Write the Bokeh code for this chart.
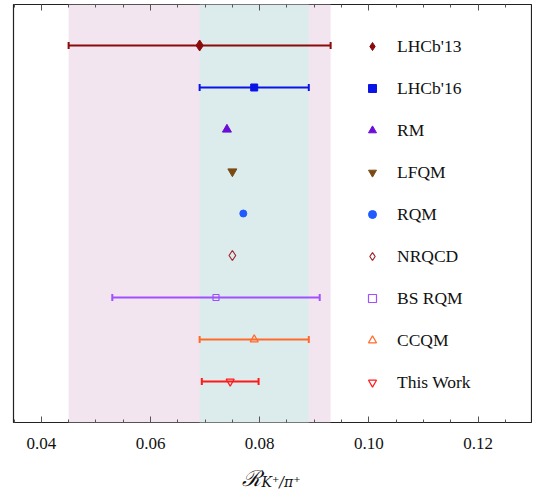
import math
from bokeh.plotting import figure
from bokeh.models import (Legend, LegendItem, Label, LinearAxis, FixedTicker,
                          BoxAnnotation, Range1d, NumeralTickFormatter,
                          CustomLabelingPolicy)
from bokeh.embed import file_html
from bokeh.resources import INLINE

# ---------------- data ----------------
names = ["LHCb'13", "LHCb'16", "RM", "LFQM", "RQM", "NRQCD", "BS RQM", "CCQM", "This Work"]
values = [0.069, 0.079, 0.074, 0.075, 0.077, 0.075, 0.072, 0.079, 0.0746]
err_minus = [0.024, 0.010, None, None, None, None, 0.019, 0.010, 0.0052]
err_plus = [0.024, 0.010, None, None, None, None, 0.019, 0.010, 0.0052]
rows = [9, 8, 7, 6, 5, 4, 3, 2, 1]
major_ticks = [0.04, 0.06, 0.08, 0.10, 0.12]
minor_ticks = [0.035, 0.045, 0.05, 0.055, 0.065, 0.07, 0.075, 0.085, 0.09, 0.095,
               0.105, 0.11, 0.115, 0.125]
x_label_main = "ℛ"
x_label_sub = "K⁺/π⁺"

# ---------------- styles ----------------
colors = ["#8B0A0A", "#0A14E6", "#6A0DD6", "#7A4A14", "#1F5BFF",
          "#A0282E", "#A050FF", "#FF6A2A", "#FF1A1A"]
markers = ["diamond", "square", "triangle", "inverted_triangle", "circle",
           "diamond", "square", "triangle", "inverted_triangle"]
sizes = [11, 7, 9, 9, 7, 10, 6, 8, 8]
filled = [True, True, True, True, True, False, False, False, False]

SERIF = "'Liberation Serif', serif"

p = figure(frame_width=518, frame_height=418,
           x_range=Range1d(0.0349, 0.1298), y_range=Range1d(0.024, 9.976),
           output_backend="svg", toolbar_location=None,
           min_border_left=13, min_border_right=1, min_border_top=1,
           min_border_bottom=58, y_axis_location=None)
p.xgrid.visible = False
p.ygrid.visible = False
p.outline_line_color = "#222222"
p.outline_line_width = 1.2
p.background_fill_color = "white"

# bands from the two LHCb measurements
p.add_layout(BoxAnnotation(left=values[0] - err_minus[0], right=values[0] + err_plus[0],
                           fill_color="#F2E5F0", fill_alpha=1.0, line_color=None,
                           level="underlay"))
p.add_layout(BoxAnnotation(left=values[1] - err_minus[1], right=values[1] + err_plus[1],
                           fill_color="#DCEBEB", fill_alpha=1.0, line_color=None,
                           level="underlay"))

ticker = FixedTicker(ticks=major_ticks, minor_ticks=minor_ticks)
ax = p.xaxis[0]
ax.ticker = ticker
ax.formatter = NumeralTickFormatter(format="0.00")
ax.axis_line_color = None
ax.major_tick_in = 6
ax.major_tick_out = 0
ax.minor_tick_in = 3
ax.minor_tick_out = 0
ax.major_tick_line_color = "#555555"
ax.minor_tick_line_color = "#555555"
ax.major_label_text_font = SERIF
ax.major_label_text_font_size = "17px"
ax.major_label_text_color = "#111111"
ax.major_label_standoff = 15

top = LinearAxis(ticker=ticker, formatter=NumeralTickFormatter(format="0.00"),
                 axis_line_color=None, major_tick_in=6, major_tick_out=0,
                 minor_tick_in=3, minor_tick_out=0,
                 major_tick_line_color="#555555", minor_tick_line_color="#555555",
                 major_label_text_font_size="1px", major_label_standoff=0,
                 major_label_policy=CustomLabelingPolicy(
                     code="for (const i of indices) { indices.unset(i) }; return indices"))
p.add_layout(top, "above")

items = []
for i, name in enumerate(names):
    c = colors[i]
    if err_minus[i] is not None:
        lo = values[i] - err_minus[i]
        hi = values[i] + err_plus[i]
        p.segment(x0=[lo], y0=[rows[i]], x1=[hi], y1=[rows[i]], line_color=c, line_width=2)
        p.scatter(x=[lo, hi], y=[rows[i], rows[i]], marker="dash", angle=math.pi / 2,
                  size=7, line_color=c, line_width=2)
    if filled[i]:
        r = p.scatter(x=[values[i]], y=[rows[i]], marker=markers[i],
                      size=sizes[i], fill_color=c, line_color=c, line_width=1)
    else:
        r = p.scatter(x=[values[i]], y=[rows[i]], marker=markers[i],
                      size=sizes[i], fill_color=None, line_color=c, line_width=1.2)
    items.append(LegendItem(label=name, renderers=[r]))

legend = Legend(items=items, location=(349, 28), orientation="vertical",
                glyph_width=20, glyph_height=24, label_height=24, spacing=18,
                label_standoff=15, padding=0, margin=0,
                border_line_color=None, background_fill_alpha=0,
                label_text_font=SERIF, label_text_font_size="17.5px",
                label_text_color="#111111")
p.add_layout(legend, "center")

p.add_layout(Label(x=228, y=-2, x_units="screen", y_units="screen", text=x_label_main,
                   text_font="'DejaVu Serif', serif", text_font_size="22px",
                   text_font_style="italic",
                   text_baseline="middle", text_align="left", text_color="#111111"),
             "below")
p.add_layout(Label(x=248, y=11, x_units="screen", y_units="screen", text=x_label_sub,
                   text_font="'DejaVu Serif', serif", text_font_size="14px",
                   text_font_style="italic",
                   text_baseline="middle", text_align="left", text_color="#111111"),
             "below")

open("out.html", "w").write(file_html(p, INLINE))
